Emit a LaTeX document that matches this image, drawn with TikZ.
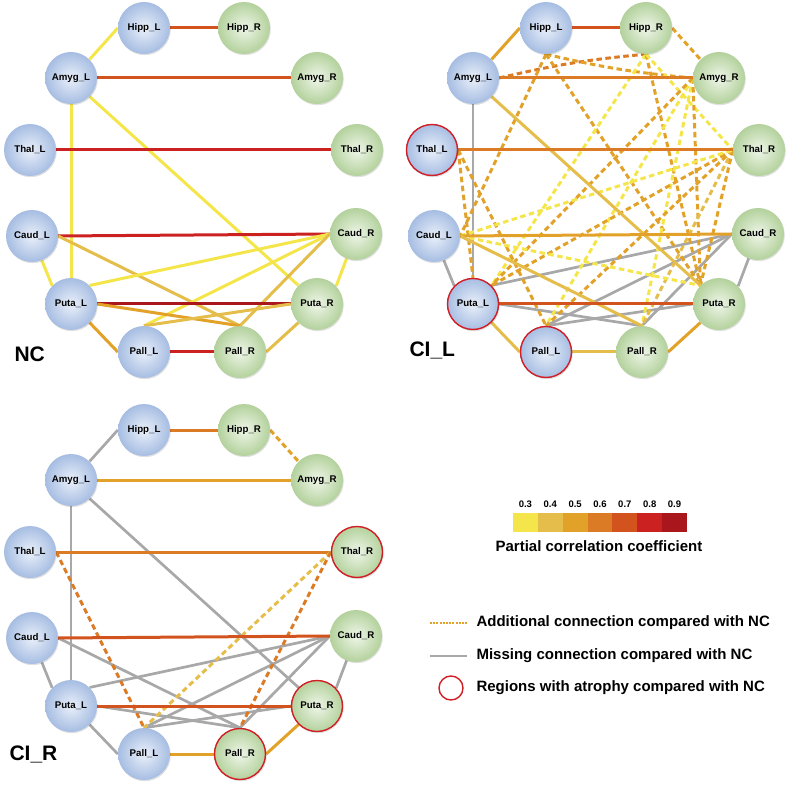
\documentclass[tikz,border=0pt]{standalone}
\usepackage{fontspec}
\setmainfont{Liberation Sans}
\usetikzlibrary{shadows}
\pgfdeclarelayer{bg}
\pgfsetlayers{bg,main}
\definecolor{cA}{HTML}{F4E64A}
\definecolor{cB}{HTML}{E5BD4A}
\definecolor{cC}{HTML}{E2A229}
\definecolor{cD}{HTML}{DC7B26}
\definecolor{cE}{HTML}{D3531E}
\definecolor{cF}{HTML}{CB2121}
\definecolor{cG}{HTML}{A9171D}
\definecolor{missgray}{HTML}{A8A8A8}
\definecolor{blueIn}{HTML}{EAF0FA}
\definecolor{blueOut}{HTML}{A6BDE2}
\definecolor{greenIn}{HTML}{EFF6E9}
\definecolor{greenOut}{HTML}{B3D19C}
\definecolor{atred}{HTML}{D21F26}
\tikzset{
  region/.style={circle, minimum size=52pt, inner sep=0pt,
    font=\fontsize{9.7}{11}\selectfont\bfseries, text=black,
    drop shadow={shadow xshift=0.8pt, shadow yshift=-1.2pt, fill=black, opacity=0.12}},
  lnode/.style={region, inner color=blueIn, outer color=blueOut},
  rnode/.style={region, inner color=greenIn, outer color=greenOut},
  ring/.style={circle, minimum size=51pt, inner sep=0pt, draw=atred, line width=1.4pt},
  edge/.style={line width=3pt},
  w3/.style={edge, draw=cA}, w4/.style={edge, draw=cB}, w5/.style={edge, draw=cC},
  w6/.style={edge, draw=cD}, w7/.style={edge, draw=cE}, w8/.style={edge, draw=cF},
  w9/.style={edge, draw=cG},
  dsh/.style={dash pattern=on 5.5pt off 3.5pt},
  d3/.style={w3, dsh}, d4/.style={w4, dsh}, d5/.style={w5, dsh}, d6/.style={w6, dsh},
  miss/.style={line width=2.7pt, draw=missgray},
  paneltitle/.style={anchor=west, font=\fontsize{21}{24}\selectfont\bfseries},
  legtext/.style={anchor=west, font=\fontsize{15}{18}\selectfont\bfseries},
  ticklabel/.style={font=\fontsize{9.5}{11}\selectfont\bfseries},
}
\newcommand\brainset[1]{%
  \node[lnode] (#1HippL) at (144,28) {Hipp\_L};
  \node[rnode] (#1HippR) at (244,28) {Hipp\_R};
  \node[lnode] (#1AmygL) at (71,78) {Amyg\_L};
  \node[rnode] (#1AmygR) at (317,78) {Amyg\_R};
  \node[lnode] (#1ThalL) at (30,150) {Thal\_L};
  \node[rnode] (#1ThalR) at (357,150) {Thal\_R};
  \node[lnode] (#1CaudL) at (32,236) {Caud\_L};
  \node[rnode] (#1CaudR) at (356,234) {Caud\_R};
  \node[lnode] (#1PutaL) at (71,304) {Puta\_L};
  \node[rnode] (#1PutaR) at (317,304) {Puta\_R};
  \node[lnode] (#1PallL) at (144,352) {Pall\_L};
  \node[rnode] (#1PallR) at (240,352) {Pall\_R};
}
\begin{document}
\begin{tikzpicture}[x=1pt,y=-1pt]
\useasboundingbox (0,0) rectangle (790,786);
% ---------------- nodes ----------------
\begin{scope}\brainset{n}\end{scope}
\begin{scope}[shift={(402,0)}]\brainset{l}\end{scope}
\begin{scope}[shift={(0,402)}]\brainset{r}\end{scope}
\node[ring] (lThalLring) at (lThalL) {};
\node[ring] (lPutaLring) at (lPutaL) {};
\node[ring] (lPallLring) at (lPallL) {};
\node[ring] (rThalRring) at (rThalR) {};
\node[ring] (rPutaRring) at (rPutaR) {};
\node[ring] (rPallRring) at (rPallR) {};
% ---------------- titles ----------------
\node[paneltitle] (tNC) at (11,354) {NC};
\node[paneltitle] (tCIL) at (406,350) {CI\_L};
\node[paneltitle] (tCIR) at (6,754) {CI\_R};
\begin{pgfonlayer}{bg}
% ---------------- NC ----------------
\draw[w7] (nHippL.east) -- (nHippR.west);
\draw[w3] (nAmygL.north east) -- (nHippL.west);
\draw[w7] (nAmygL.east) -- (nAmygR.west);
\draw[w3] (nAmygL.south) -- (nPutaL.north);
\draw[w3] (nAmygL.south east) -- (nPutaR.north west);
\draw[w8] (nThalL.east) -- (nThalR.west);
\draw[w8] (nCaudL.east) -- (nCaudR.west);
\draw[w4] (nCaudL.east) -- (nPallR.north);
\draw[w3] (nCaudL.-68) -- (nPutaL.136);
\draw[w3] (nCaudR.west) -- (nPutaL.north east);
\draw[w3] (nCaudR.west) -- (nPallL.north);
\draw[w4] (nCaudR.west) -- (nPallR.north);
\draw[w3] (nCaudR.-111) -- (nPutaR.43);
\draw[w9] (nPutaL.east) -- (nPutaR.west);
\draw[w5] (nPutaL.east) -- (nPallR.north);
\draw[w4] (nPutaR.west) -- (nPallL.north);
\draw[w5] (nPutaL.south east) -- (nPallL.west);
\draw[w8] (nPallL.east) -- (nPallR.west);
\draw[w4] (nPallR.east) -- (nPutaR.south west);
% ---------------- CI_L ----------------
\draw[miss] (lAmygL.south) -- (lPutaL.north);
\draw[miss] (lCaudL.-68) -- (lPutaL.136);
\draw[miss] (lCaudR.west) -- (lPutaL.north east);
\draw[miss] (lCaudR.west) -- (lPallL.north);
\draw[miss] (lCaudR.west) -- (lPallR.north);
\draw[miss] (lCaudR.-111) -- (lPutaR.43);
\draw[miss] (lPutaL.east) -- (lPallR.north);
\draw[miss] (lPutaR.west) -- (lPallL.north);
\draw[d5] (lHippR.east) -- (lAmygR.north west);
\draw[d6] (lAmygL.east) to[bend left=4] (lHippR.south);
\draw[d5] (lHippL.south) to[bend right=4] (lAmygR.west);
\draw[d5] (lHippL.south) -- (lCaudL.east);
\draw[d5] (lHippL.south) -- (lPutaR.north west);
\draw[d3] (lHippR.south) -- (lPutaL.north east);
\draw[d5] (lHippR.south) -- (lPutaR.north west);
\draw[d3] (lHippR.south) -- (lThalR.west);
\draw[d3] (lAmygR.west) -- (lPallR.north);
\draw[d5] (lAmygR.west) -- (lPutaR.north west);
\draw[d3] (lAmygR.west) -- (lPallL.north);
\draw[d5] (lAmygR.west) -- (lPutaL.north east);
\draw[d5] (lThalL.east) -- (lPutaL.north);
\draw[d5] (lThalL.east) -- (lPallL.north);
\draw[d5] (lThalR.west) -- (lPutaL.north east);
\draw[d5] (lThalR.west) -- (lPallL.north);
\draw[d4] (lThalR.west) -- (lPallR.north);
\draw[d5] (lThalR.west) -- (lPutaR.north west);
\draw[d3] (lCaudL.east) -- (lPutaR.north west);
\draw[d3] (lCaudL.east) -- (lThalR.west);
\draw[w5] (lHippL.west) -- (lAmygL.north east);
\draw[w7] (lHippL.east) -- (lHippR.west);
\draw[w6] (lAmygL.east) -- (lAmygR.west);
\draw[w4] (lAmygL.south east) -- (lPutaR.north west);
\draw[w6] (lThalL.east) -- (lThalR.west);
\draw[w5] (lCaudL.east) -- (lCaudR.west);
\draw[w4] (lCaudL.east) -- (lPallR.north);
\draw[w7] (lPutaL.east) -- (lPutaR.west);
\draw[w4] (lPutaL.south east) -- (lPallL.west);
\draw[w4] (lPallL.east) -- (lPallR.west);
\draw[w5] (lPallR.east) -- (lPutaR.south west);
% ---------------- CI_R ----------------
\draw[miss] (rHippL.west) -- (rAmygL.north east);
\draw[miss] (rAmygL.south) -- (rPutaL.north);
\draw[miss] (rAmygL.south east) -- (rPutaR.north west);
\draw[miss] (rCaudL.east) -- (rPallR.north);
\draw[miss] (rCaudL.-68) -- (rPutaL.136);
\draw[miss] (rCaudR.west) -- (rPutaL.north east);
\draw[miss] (rCaudR.west) -- (rPallL.north);
\draw[miss] (rCaudR.west) -- (rPallR.north);
\draw[miss] (rCaudR.-111) -- (rPutaR.43);
\draw[miss] (rPutaL.east) -- (rPallR.north);
\draw[miss] (rPutaR.west) -- (rPallL.north);
\draw[miss] (rPutaL.south east) -- (rPallL.west);
\draw[w6] (rHippL.east) -- (rHippR.west);
\draw[d5] (rHippR.east) -- (rAmygR.north west);
\draw[w5] (rAmygL.east) -- (rAmygR.west);
\draw[w6] (rThalL.east) -- (rThalR.west);
\draw[d6] (rThalL.east) -- (rPallL.north);
\draw[d4] (rThalR.west) -- (rPallL.north);
\draw[d6] (rThalR.west) -- (rPallR.north);
\draw[w7] (rCaudL.east) -- (rCaudR.west);
\draw[w7] (rPutaL.east) -- (rPutaR.west);
\draw[w5] (rPallL.east) -- (rPallR.west);
\draw[w5] (rPallR.east) -- (rPutaR.south west);
\end{pgfonlayer}
% ---------------- legend ----------------
\foreach \c [count=\i from 0] in {cA,cB,cC,cD,cE,cF,cG} {
  \fill[\c] ({513+24.857*\i},513) rectangle ({513+24.857*(\i+1)},532);
}
\foreach \t [count=\i from 0] in {0.3,0.4,0.5,0.6,0.7,0.8,0.9} {
  \node[ticklabel] at ({525.4+24.857*\i},504) {\t};
}
\node[font=\fontsize{15}{18}\selectfont\bfseries] (cbtitle) at (599,546) {Partial correlation coefficient};
\coordinate (la1) at (430,623); \coordinate (lb1) at (467,623);
\draw[cC, line width=1.6pt, dash pattern=on 2pt off 1.2pt] (la1) -- (lb1);
\node[legtext] (lt1) at (473,623) {Additional connection compared with NC};
\coordinate (la2) at (430,656); \coordinate (lb2) at (467,656);
\draw[missgray, line width=1.6pt] (la2) -- (lb2);
\node[legtext] (lt2) at (473,656) {Missing connection compared with NC};
\draw[atred, line width=1.4pt] (451,688) circle (12pt);
\node[legtext] (lt3) at (473,688) {Regions with atrophy compared with NC};
\end{tikzpicture}
\end{document}
